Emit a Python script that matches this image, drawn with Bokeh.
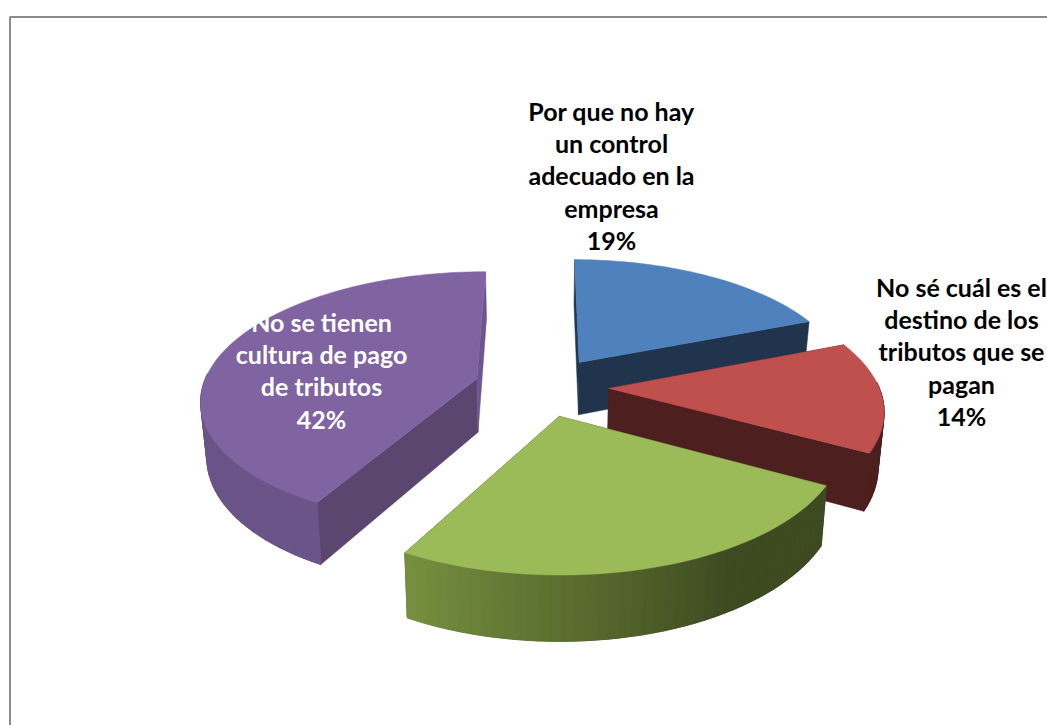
import numpy as np
from bokeh.core.properties import value
from bokeh.embed import file_html
from bokeh.models import ColumnDataSource, Range1d
from bokeh.plotting import figure
from bokeh.resources import INLINE

# Chart data, clockwise from twelve o'clock
categories = [
    "Por que no hay un control adecuado en la empresa",
    "No sé cuál es el destino de los tributos que se pagan",
    "Sin etiqueta",
    "No se tienen cultura de pago de tributos",
]
shares = [19, 14, 25, 42]

# Label text, one list of lines per labelled slice
label_lines = [
    ["Por que no hay", "un control", "adecuado en la", "empresa", "19%"],
    ["No sé cuál es el", "destino de los", "tributos que se", "pagan", "14%"],
    ["No se tienen", "cultura de pago", "de tributos", "42%"],
]
label_colors = ["#000000", "#000000", "#ffffff"]
label_anchor_x = [611, 961, 321]
label_first_y = [110, 286, 321]
LINE_STEP = 32.4

# Slice colours: top face, cut faces, then the rim ramp (start, knee, end)
top_colors = ["#4f81bd", "#c0504d", "#9bbb59", "#8064a2"]
cut_start_colors = ["#1f3550", "#4d1f1e", "#3e4a20", "#5b4670"]
cut_end_colors = ["#20344e", "#4d1f1e", "#3e4a20", "#6c5590"]
rim_ramps = [
    ("#20344e", "#20344e", "#20344e"),
    ("#4d1f1e", "#4d1f1e", "#4d1f1e"),
    ("#3e4a20", "#3e4a20", "#76903f"),
    ("#6a5488", "#6a5488", "#6f5a8e"),
]
RIM_KNEE = 0.33
rim_underlay = ["#20344e", "#4d1f1e", "#55642c", "#6b5589"]

# Camera and extrusion settings
CX, CY = 543.0, 386.0
RADIUS_X, RADIUS_Y = 272.0, 125.0
TILT_Y, TILT_X = 0.15, 0.005
explode = [0.24, 0.24, 0.24, 0.255]
slice_nudge_x = [0, 0, -3, 0]
DEPTH = 54.0
BASE_SHRINK = 0.982


def project(x, y, base=False, nudge=0.0):
    """Map pie-plane coordinates onto the page with a light perspective."""
    s = 1.0 / (1.0 + TILT_Y * y + TILT_X * x)
    px = CX + RADIUS_X * x * s
    py = CY - RADIUS_Y * y * s
    if base:
        px = CX + (px - CX) * BASE_SHRINK
        py = py + DEPTH * s
    return px + nudge, py


def hex_rgb(c):
    return np.array([int(c[i:i + 2], 16) for i in (1, 3, 5)], dtype=float)


def ramp_color(ramp, t):
    a, k, b = (hex_rgb(c) for c in ramp)
    if t < RIM_KNEE:
        rgb = a + (k - a) * t / RIM_KNEE
    else:
        rgb = k + (b - k) * (t - RIM_KNEE) / (1 - RIM_KNEE)
    return "#%02x%02x%02x" % tuple(int(round(v)) for v in rgb)


p = figure(
    width=1047,
    height=725,
    x_range=Range1d(0, 1047),
    y_range=Range1d(725, 0),
    x_axis_type=None,
    y_axis_type=None,
    toolbar_location=None,
    output_backend="svg",
    min_border=0,
    outline_line_color=None,
    background_fill_color="#ffffff",
    border_fill_color="#ffffff",
)
p.grid.visible = False

# Chart area border, running off the page at the right and bottom
p.line([9.5, 9.5, 1100], [800, 16.5, 16.5], line_color="#8c8c8c", line_width=2)

fractions = np.array(shares, dtype=float) / sum(shares)
edges = np.concatenate([[0.0], np.cumsum(fractions)]) * 2 * np.pi


def build_slice(i):
    a0, a1 = edges[i], edges[i + 1]
    mid = (a0 + a1) / 2
    ox, oy = explode[i] * np.sin(mid), explode[i] * np.cos(mid)
    theta = np.linspace(a0, a1, max(12, int(np.degrees(a1 - a0) / 2)))
    rx, ry = ox + np.sin(theta), oy + np.cos(theta)
    n = slice_nudge_x[i]
    tx, ty = project(rx, ry, nudge=n)
    bx, by = project(rx, ry, base=True, nudge=n)
    ax, ay = project(ox, oy, nudge=n)
    abx, aby = project(ox, oy, base=True, nudge=n)

    # Flat cut faces along both radial edges
    p.patch([ax, tx[0], bx[0], abx], [ay, ty[0], by[0], aby],
            fill_color=cut_start_colors[i], line_color=cut_start_colors[i], line_width=0.5)
    p.patch([ax, tx[-1], bx[-1], abx], [ay, ty[-1], by[-1], aby],
            fill_color=cut_end_colors[i], line_color=cut_end_colors[i], line_width=0.5)

    # Rim on the side facing the viewer: a solid underlay, then strips for the shading
    facing = np.where(np.cos(theta) < 0.05)[0]
    if len(facing) > 1:
        f0, f1 = facing[0], facing[-1]
        p.patch(np.concatenate([tx[f0:f1 + 1], bx[f0:f1 + 1][::-1]]),
                np.concatenate([ty[f0:f1 + 1], by[f0:f1 + 1][::-1]]),
                fill_color=rim_underlay[i], line_color=rim_underlay[i], line_width=0.5)
        xs, ys, cols = [], [], []
        for j in range(f0, f1):
            xs.append([tx[j], tx[j + 1], bx[j + 1], bx[j]])
            ys.append([ty[j], ty[j + 1], by[j + 1], by[j]])
            cols.append(ramp_color(rim_ramps[i], (j + 0.5) / (len(theta) - 1)))
        rim = ColumnDataSource(dict(xs=xs, ys=ys, c=cols))
        p.patches("xs", "ys", source=rim, fill_color="c", line_color="c", line_width=1.2)

    # Top face
    p.patch(np.concatenate([[ax], tx]), np.concatenate([[ay], ty]),
            fill_color=top_colors[i], line_color=top_colors[i], line_width=0.5)


# Painted back to front
for idx in (0, 3, 1, 2):
    build_slice(idx)

# Data labels
for lines, color, x0, y0 in zip(label_lines, label_colors, label_anchor_x, label_first_y):
    src = ColumnDataSource(dict(
        x=[x0] * len(lines),
        y=[y0 + LINE_STEP * n for n in range(len(lines))],
        t=lines,
    ))
    p.text("x", "y", text="t", source=src, text_color=color,
           text_font=value("Lato"), text_font_style="bold", text_font_size="25px",
           text_align="center", text_baseline="middle")

open("out.html", "w").write(file_html(p, INLINE))
